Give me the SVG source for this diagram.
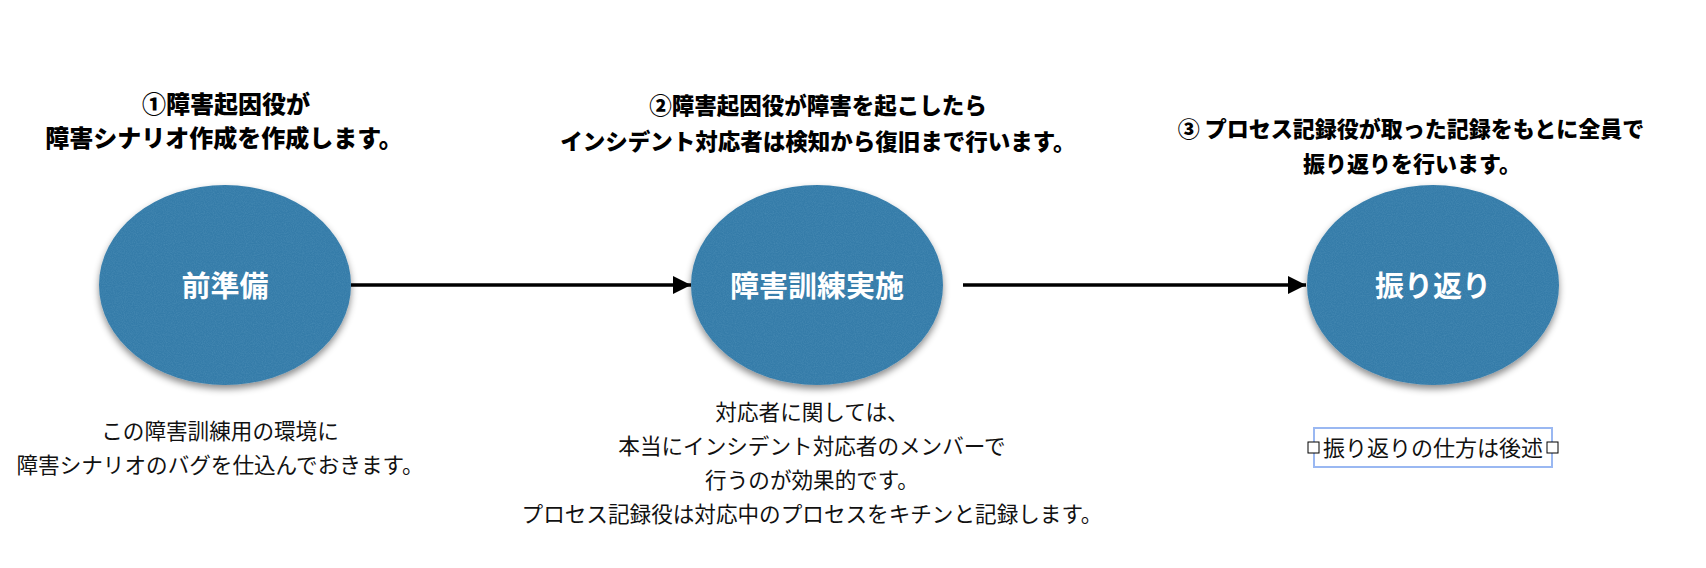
<svg xmlns="http://www.w3.org/2000/svg" width="1706" height="568" viewBox="0 0 1706 568">
<style>
.title{font-family:"Noto Sans CJK JP","Noto Sans",sans-serif;font-weight:900;font-size:22px;fill:#000;text-anchor:middle}
.label{font-family:"Noto Sans CJK JP","Noto Sans",sans-serif;font-weight:700;font-size:29px;fill:#fff;text-anchor:middle}
.desc{font-family:"Noto Sans CJK JP","Noto Sans",sans-serif;font-weight:400;font-size:21.6px;fill:#111;text-anchor:middle}
.node{fill:#367ca9;filter:url(#shadow)}
.tex{fill:#367ca9;filter:url(#grain);opacity:0.3}
.conn{stroke:#000;stroke-width:3.5;fill:none;marker-end:url(#arrow)}
.handle{fill:#fff;stroke:#000;stroke-width:1}
</style>
<defs>
<filter id="shadow" x="-20%" y="-20%" width="140%" height="150%">
<feDropShadow dx="0" dy="4" stdDeviation="3.5" flood-color="#000" flood-opacity="0.45"/>
</filter>
<filter id="grain" x="0" y="0" width="100%" height="100%">
<feTurbulence type="fractalNoise" baseFrequency="0.9" numOctaves="2" seed="3" result="n"/>
<feColorMatrix in="n" type="matrix" values="0 0 0 0 0.2  0 0 0 0 0.45  0 0 0 0 0.65  0 0 0 1.2 -0.4" result="c"/>
<feComposite in="c" in2="SourceGraphic" operator="in"/>
</filter>
<marker id="arrow" viewBox="0 0 10 10" refX="10" refY="5" markerUnits="userSpaceOnUse" markerWidth="18" markerHeight="18" orient="auto">
<path d="M0,0 L10,5 L0,10 Z" fill="#000"/>
</marker>
</defs>

<g id="connectors">
<line class="conn" x1="351" y1="285" x2="691" y2="285"/>
<line class="conn" x1="963" y1="285" x2="1306" y2="285"/>
</g>

<g id="node-prep">
<ellipse class="node" cx="225" cy="285" rx="126" ry="100"/>
<ellipse class="tex" cx="225" cy="285" rx="126" ry="100"/>
<text class="label" x="225" y="297">前準備</text>
</g>

<g id="node-exec">
<ellipse class="node" cx="817" cy="285" rx="126" ry="100"/>
<ellipse class="tex" cx="817" cy="285" rx="126" ry="100"/>
<text class="label" x="817" y="297">障害訓練実施</text>
</g>

<g id="node-retro">
<ellipse class="node" cx="1433" cy="285" rx="126" ry="100"/>
<ellipse class="tex" cx="1433" cy="285" rx="126" ry="100"/>
<text class="label" x="1433" y="297">振り返り</text>
</g>

<g id="title-1">
<text class="title" x="226" y="113" style="font-size:24px">①障害起因役が</text>
<text class="title" x="224" y="147" style="font-size:24px">障害シナリオ作成を作成します。</text>
</g>
<g id="title-2">
<text class="title" x="818" y="114" style="font-size:22.5px">②障害起因役が障害を起こしたら</text>
<text class="title" x="818" y="150" style="font-size:22.5px">インシデント対応者は検知から復旧まで行います。</text>
</g>
<g id="title-3">
<text class="title" x="1411" y="137">③ プロセス記録役が取った記録をもとに全員で</text>
<text class="title" x="1412" y="172">振り返りを行います。</text>
</g>

<g id="desc-1">
<text class="desc" x="220" y="439">この障害訓練用の環境に</text>
<text class="desc" x="220" y="473">障害シナリオのバグを仕込んでおきます。</text>
</g>
<g id="desc-2">
<text class="desc" x="812" y="420">対応者に関しては、</text>
<text class="desc" x="812" y="454">本当にインシデント対応者のメンバーで</text>
<text class="desc" x="812" y="488">行うのが効果的です。</text>
<text class="desc" x="812" y="522">プロセス記録役は対応中のプロセスをキチンと記録します。</text>
</g>
<g id="desc-3">
<rect x="1314" y="428" width="238" height="39" fill="none" stroke="#9ab8f2" stroke-width="2"/>
<rect class="handle" x="1308" y="442" width="11" height="11"/>
<rect class="handle" x="1547" y="442" width="11" height="11"/>
<text class="desc" x="1433" y="456" style="font-size:22px">振り返りの仕方は後述</text>
</g>
</svg>
